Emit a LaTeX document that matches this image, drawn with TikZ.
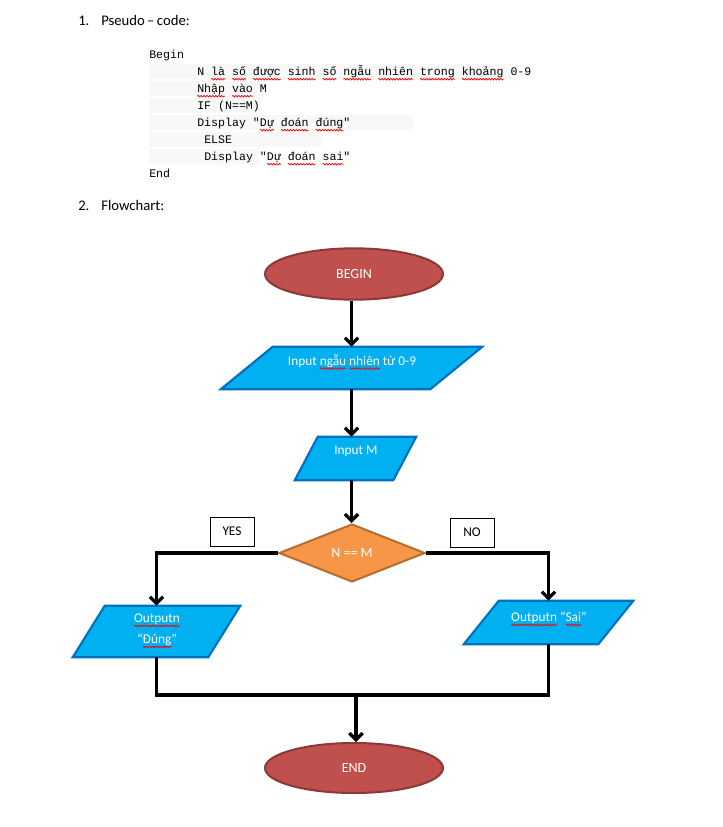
\documentclass[tikz,border=0pt]{standalone}
\usepackage{fontspec}
\setmainfont{Carlito}
\newfontfamily\codefont{Liberation Mono}
\usetikzlibrary{arrows.meta,shapes.geometric,calc,decorations.pathmorphing}
\definecolor{begfill}{HTML}{C0504D}
\definecolor{begdraw}{HTML}{8C3836}
\definecolor{iofill}{HTML}{00B0F0}
\definecolor{iodraw}{HTML}{0070C0}
\definecolor{decfill}{HTML}{F79646}
\definecolor{decdraw}{HTML}{B66D31}
\definecolor{barcol}{HTML}{F8F8F8}
\newcommand\rw[1]{\tikz[baseline=(w.base)]{\node[inner sep=0,outer sep=0,anchor=base] (w) {#1};\draw[overlay, red, line width=0.55pt, decorate, decoration={snake, amplitude=0.6pt, segment length=2.2pt}] ([yshift=-2.4pt]w.base west) -- ([yshift=-2.4pt]w.base east);}}
\newcommand\iopara[2]{\filldraw[io] ($(#1.north west)+(#2,0)$) -- (#1.north east) -- ($(#1.south east)-(#2,0)$) -- (#1.south west) -- cycle;}
\begin{document}
\begin{tikzpicture}[x=0.75pt,y=-0.75pt,
 hdr/.style={anchor=base west, inner sep=0, font=\fontsize{11}{13}\selectfont},
 code/.style={anchor=base west, inner sep=0, font=\codefont\fontsize{8.7}{10}\selectfont},
 bar/.style={fill=barcol, draw=none},
 term/.style={ellipse, fill=begfill, draw=begdraw, line width=1.5pt, inner sep=0, minimum width=133.5pt, minimum height=38.5pt, text=white, font=\fontsize{10.5}{12}\selectfont},
 io/.style={fill=iofill, draw=iodraw, line width=1.6pt, line join=miter},
 iobox/.style={inner sep=0, draw=none},
 lbl/.style={text=white, font=\fontsize{10}{15.75}\selectfont, align=center, inner sep=0},
 dec/.style={diamond, fill=decfill, draw=decdraw, line width=1.5pt, inner sep=0, minimum width=109.5pt, minimum height=43.5pt, text=white, font=\fontsize{10.5}{12}\selectfont},
 tag/.style={draw=black, line width=0.6pt, minimum width=33pt, minimum height=21.75pt, inner sep=0, font=\fontsize{10}{12}\selectfont},
 wire/.style={line width=2.4pt, draw=black},
 flow/.style={wire, -{Straight Barb[length=5pt, width=10pt]}},
]
\useasboundingbox (0,0) rectangle (723,827);
% code line backgrounds
\fill[bar] (149,64) rectangle (512,79);
\fill[bar] (149,81) rectangle (267,96);
\fill[bar] (149,98) rectangle (261,113);
\fill[bar] (149,115) rectangle (413,130);
\fill[bar] (149,132) rectangle (322,147);
\fill[bar] (149,149) rectangle (260,164);
% headers
\node[hdr] (n1) at (78,26) {1.};
\node[hdr] (h1) at (101,26) {Pseudo\,–\,code:};
\node[hdr] (n2) at (78,211) {2.};
\node[hdr] (h2) at (101,211) {Flowchart:};
% pseudo code
\node[code] (c1) at (149,59) {Begin};
\node[code] (c2) at (197,76) {N \rw{là} \rw{số} \rw{được} \rw{sinh} \rw{số} \rw{ngẫu} \rw{nhiên} \rw{trong} \rw{khoảng} 0-9};
\node[code] (c3) at (197,93) {\rw{Nhập} \rw{vào} M};
\node[code] (c4) at (197,110) {IF (N==M)};
\node[code] (c5) at (197,127) {Display "\rw{Dự} \rw{đoán} \rw{đúng}"};
\node[code] (c6) at (204,144) {ELSE};
\node[code] (c7) at (204,161) {Display "\rw{Dự} \rw{đoán} \rw{sai}"};
\node[code] (c8) at (149,178) {End};
% flowchart
\node[term] (begin) at (354,274) {BEGIN};
\node[iobox, minimum width=261*0.75pt, minimum height=42*0.75pt] (inp) at (351.5,368) {};
\iopara{inp}{52}
\node[lbl] (inpt) at (352,361) {Input \rw{ngẫu} \rw{nhiên} từ 0-9};
\node[iobox, minimum width=121*0.75pt, minimum height=43*0.75pt] (inm) at (355.5,458.5) {};
\iopara{inm}{23}
\node[lbl] (inmt) at (356,451) {Input M};
\node[dec] (dec) at (352,553) {N == M};
\node[tag] (yes) at (232,531.5) {YES};
\node[tag] (no) at (472,532.5) {NO};
\node[iobox, minimum width=167*0.75pt, minimum height=51*0.75pt] (outy) at (156.5,631.5) {};
\iopara{outy}{32}
\node[lbl] (outyt) at (157,630) {\rw{Outputn}\\“\rw{Đúng}”};
\node[iobox, minimum width=169*0.75pt, minimum height=43*0.75pt] (outn) at (548.5,622.5) {};
\iopara{outn}{35}
\node[lbl] (outnt) at (549,618) {\rw{Outputn} “\rw{Sai}”};
\node[term, minimum height=37.5pt] (end) at (354,768) {END};
\coordinate (m) at (356,695);
% connectors
\draw[flow] (inp.north |- begin.south) -- (inp.north);
\draw[flow] (inp.south) -- (inp.south |- inm.north);
\draw[flow] (inp.south |- inm.south) -- (inp.south |- dec.north);
\draw[flow] (dec.west) -| (outy.north);
\draw[flow] (dec.east) -| (outn.north);
\draw[wire, line join=miter] (outy.south) |- (m) -| (outn.south);
\draw[flow] (m) -- (m |- end.north);
\end{tikzpicture}
\end{document}
